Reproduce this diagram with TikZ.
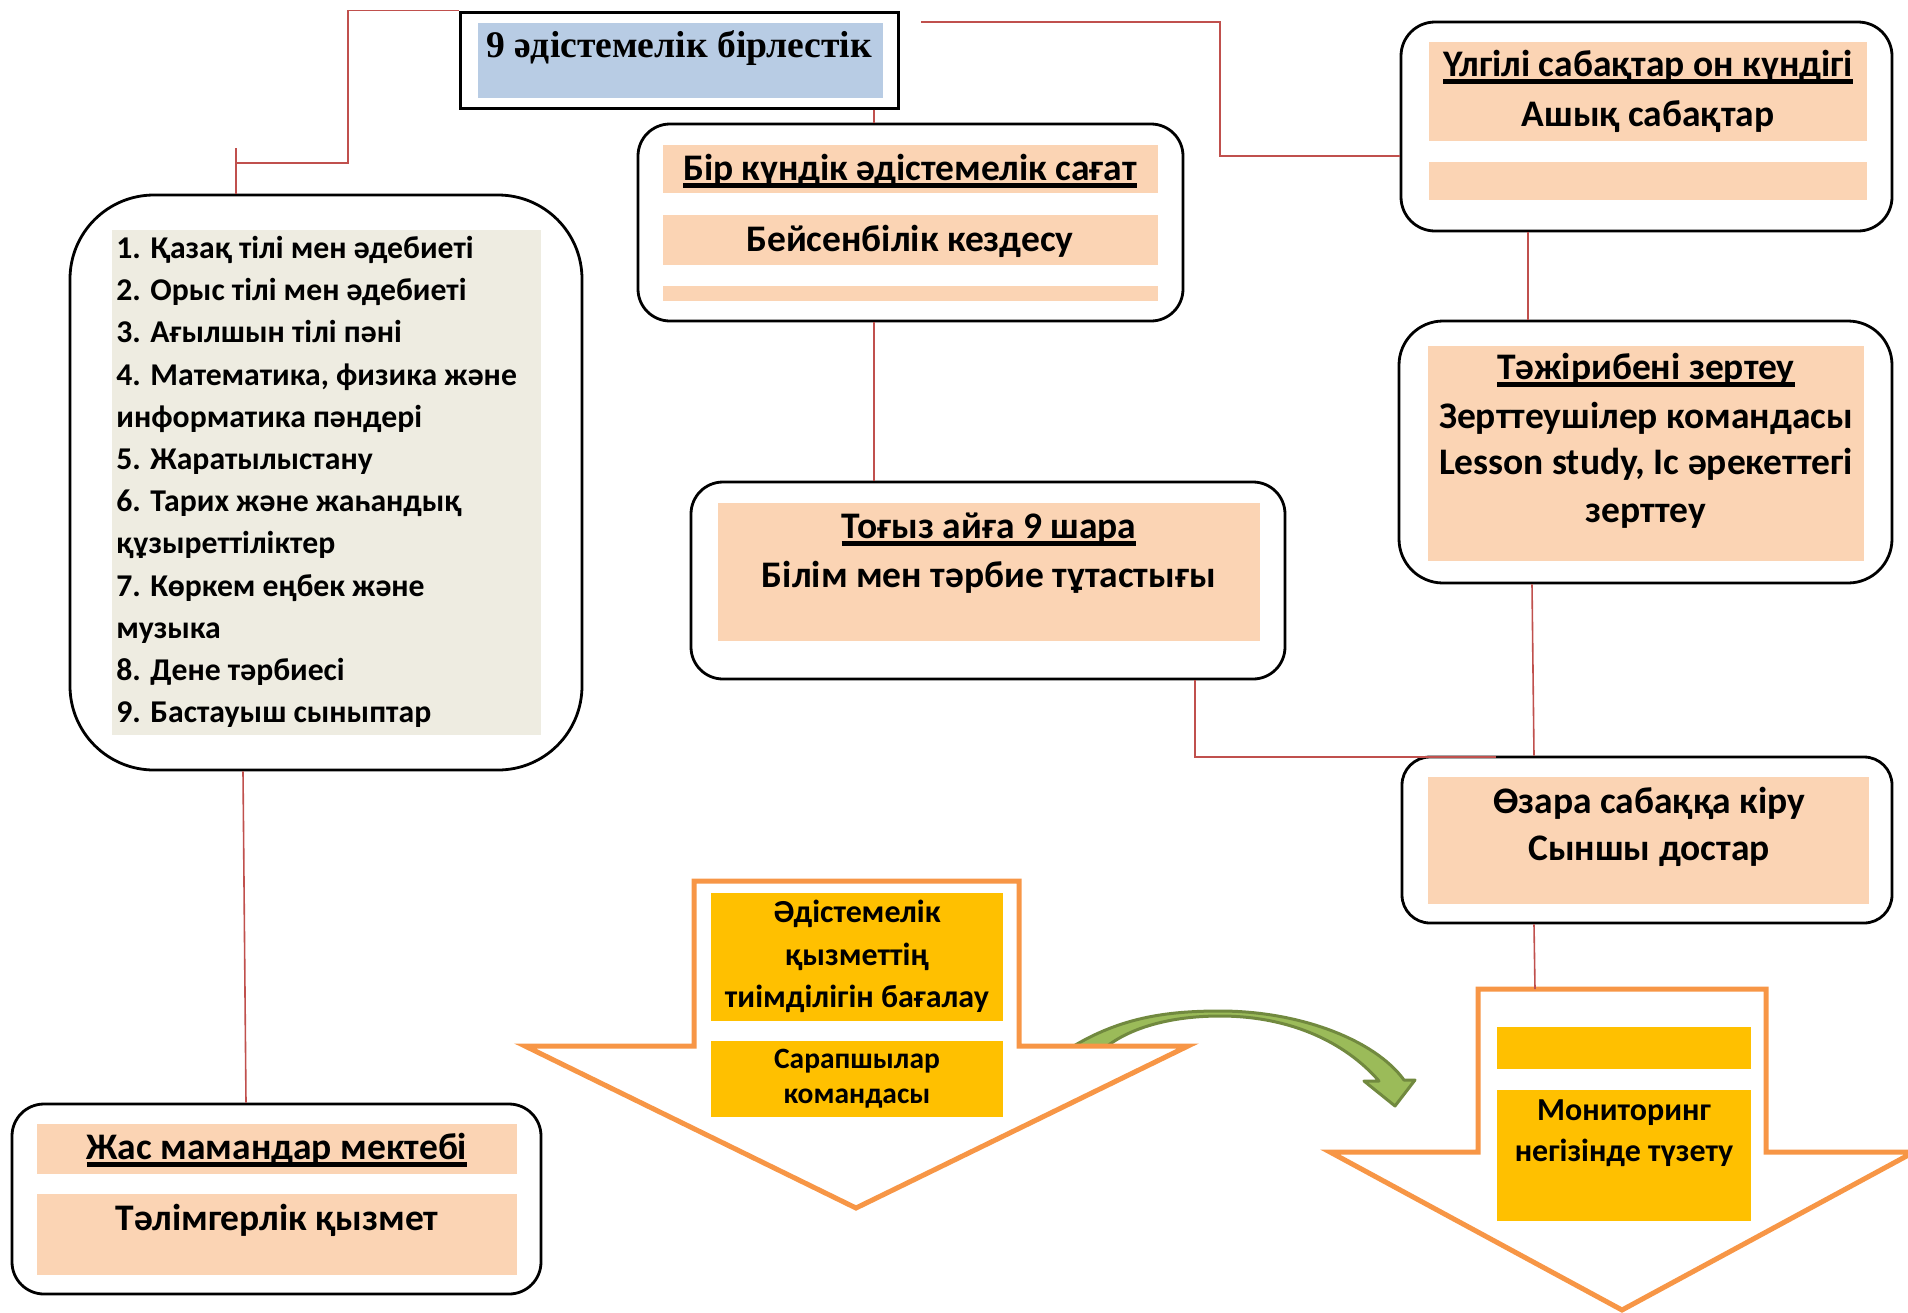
\documentclass[tikz,border=0pt]{standalone}
\usepackage{fontspec}
\setmainfont{Carlito}
\newfontfamily\serifbf{Liberation Serif}
\usetikzlibrary{fit}
\definecolor{redline}{HTML}{C0504D}
\definecolor{peach}{HTML}{FBD4B4}
\definecolor{beige}{HTML}{EEECE1}
\definecolor{lblue}{HTML}{B8CCE4}
\definecolor{amber}{HTML}{FFC000}
\definecolor{orng}{HTML}{F79646}
\definecolor{gfill}{HTML}{9BBB59}
\definecolor{gline}{HTML}{71893F}
\newsavebox\ulbox
\newcommand\ulx[1]{\sbox\ulbox{#1}\rlap{\rule[-0.2em]{\wd\ulbox}{0.11em}}\usebox\ulbox}
\begin{document}
\begin{tikzpicture}[x=0.5pt,y=-0.5pt,
  rbox/.style={draw=black, line width=1.4pt, fill=white, inner sep=0pt},
  ybox/.style={fill=amber, inner sep=0pt},
  conn/.style={draw=redline, line width=0.8pt},
  hd/.style={anchor=base, inner sep=0pt, font=\bfseries\fontsize{18.75}{22}\selectfont},
  lt/.style={anchor=base west, inner sep=0pt, font=\bfseries\fontsize{15.85}{19}\selectfont},
  yt/.style={anchor=base, inner sep=0pt, font=\bfseries\fontsize{16}{19}\selectfont},
  ys/.style={anchor=base, inner sep=0pt, font=\bfseries\fontsize{14.75}{18}\selectfont},
  arrowshape/.style={draw=orng, fill=white, line width=2.5pt, line join=miter}]
\useasboundingbox (0,0) rectangle (1908,1313);

% top box
\node[fit={(460,12) (898,108)}, inner sep=0pt, draw=black, line width=1.5pt, fill=white] (top) {};
\fill[lblue] (478,23) rectangle (883,98);
\node[anchor=base, inner sep=0pt, font=\serifbf\bfseries\fontsize{18.8}{21}\selectfont] (toptxt) at (679,57) {9 әдістемелік бірлестік};

% Bir kundik
\node[rbox, rounded corners=16pt, fit={(638,124) (1183,321)}] (bir) {};
\fill[peach] (663,145) rectangle (1158,193);
\fill[peach] (663,215) rectangle (1158,265);
\fill[peach] (663,286) rectangle (1158,301);
\node[hd] (bir1) at (910,180) {\ulx{Бір күндік әдістемелік сағат}};
\node[hd] (bir2) at (910,251) {Бейсенбілік кездесу};

% Togyz
\node[rbox, rounded corners=16pt, fit={(691,482) (1285,679)}] (tog) {};
\fill[peach] (718,503) rectangle (1260,641);
\node[hd] (tog1) at (989,538) {\ulx{Тоғыз айға 9 шара}};
\node[hd] (tog2) at (989,587) {Білім мен тәрбие тұтастығы};

% Ulgili
\node[rbox, rounded corners=17pt, fit={(1401,22) (1892,231)}] (ulg) {};
\fill[peach] (1429,42) rectangle (1867,141);
\fill[peach] (1429,162) rectangle (1867,200);
\node[hd] (ulg1) at (1648,76) {\ulx{Үлгілі сабақтар он күндігі}};
\node[hd] (ulg2) at (1648,126) {Ашық сабақтар};

% Tazhiribe
\node[rbox, rounded corners=22pt, fit={(1399,321) (1892,583)}] (taz) {};
\fill[peach] (1428,346) rectangle (1864,561);
\node[hd] (taz1) at (1646,379) {\ulx{Тәжірибені зертеу}};
\node[hd] (taz2) at (1646,428) {Зерттеушілер командасы};
\node[hd] (taz3) at (1646,474) {Lesson study, Іс әрекеттегі};
\node[hd] (taz4) at (1646,522) {зерттеу};

% Ozara
\node[rbox, rounded corners=14pt, fit={(1402,757) (1892,923)}] (oza) {};
\fill[peach] (1428,777) rectangle (1869,904);
\node[hd] (oza1) at (1649,813) {Өзара сабаққа кіру};
\node[hd] (oza2) at (1649,860) {Сыншы достар};

% List
\node[rbox, rounded corners=42pt, fit={(70,195) (582,770)}] (lst) {};
\fill[beige] (112,230) rectangle (541,735);
\foreach \t [count=\i] in {1. Қазақ тілі мен әдебиеті, 2. Орыс тілі мен әдебиеті, 3. Ағылшын тілі пәні, {4. Математика, физика және}, информатика пәндері, 5. Жаратылыстану, 6. Тарих және жаһандық, құзыреттіліктер, 7. Көркем еңбек және, музыка, 8. Дене тәрбиесі, 9. Бастауыш сыныптар}
  \node[lt] (L\i) at (116,{258.5+42.2*(\i-1)}) {\t};

% Jas
\node[rbox, rounded corners=16pt, fit={(12,1104) (541,1294)}] (jas) {};
\fill[peach] (37,1124) rectangle (517,1174);
\fill[peach] (37,1194) rectangle (517,1275);
\node[hd] (jas1) at (277,1159) {\ulx{Жас мамандар мектебі}};
\node[hd] (jas2) at (277,1230) {Тәлімгерлік қызмет};

% green curved arrow
\draw[gline, fill=gfill, line width=1.5pt, line join=round]
  (1072,1047) .. controls (1120,1018) and (1165,1011) .. (1220,1011)
  .. controls (1300,1011) and (1375,1040) .. (1404,1080)
  -- (1415,1080) -- (1395,1106) -- (1364,1081) -- (1379,1081)
  .. controls (1345,1042) and (1290,1016) .. (1220,1016)
  .. controls (1170,1016) and (1130,1028) .. (1106,1047) -- cycle;

% left orange arrow
\draw[arrowshape] (694,881) -- (1019,881) -- (1019,1046) -- (1188,1046) -- (856,1208) -- (525,1046) -- (694,1046) -- cycle;
\node[ybox, fit={(711,893) (1003,1021)}] (y1) {};
\node[ybox, fit={(711,1041) (1003,1117)}] (y2) {};
\node[yt] (y1a) at (857,922) {Әдістемелік};
\node[yt] (y1b) at (857,965) {қызметтің};
\node[yt] (y1c) at (857,1007) {тиімділігін бағалау};
\node[ys] (y2a) at (857,1068) {Сарапшылар};
\node[ys] (y2b) at (857,1103) {командасы};

% right orange arrow
\draw[arrowshape] (1478,989) -- (1766,989) -- (1766,1152) -- (1914,1152) -- (1622,1310) -- (1330,1152) -- (1478,1152) -- cycle;
\coordinate (rtop) at (1535,989);
\node[ybox, fit={(1497,1027) (1751,1069)}] (y3) {};
\node[ybox, fit={(1497,1090) (1751,1221)}] (y4) {};
\node[yt] (y4a) at (1624,1120) {Мониторинг};
\node[yt] (y4b) at (1624,1161) {негізінде түзету};

% connectors
\coordinate (k1) at (348,163);
\coordinate (k1e) at (236,163);
\coordinate (stub) at (236,148);
\draw[conn] (top.north west) -| (k1) -- (k1e);
\draw[conn] (stub) -- (stub |- lst.north);
\coordinate (tr) at (921,22);
\coordinate (k2) at (1220,156);
\draw[conn] (tr) -| (k2) -- (k2 -| ulg.west);
\coordinate (xa) at (874,0);
\draw[conn] (top.south -| xa) -- (bir.north -| xa);
\draw[conn] (bir.south -| xa) -- (tog.north -| xa);
\coordinate (xb) at (1195,757);
\coordinate (xc) at (1496,757);
\draw[conn] (tog.south -| xb) -- (xb) -- (xc);
\coordinate (xd) at (1528,0);
\draw[conn] (ulg.south -| xd) -- (taz.north -| xd);
\coordinate (xe) at (1532,0);
\coordinate (xf) at (1534,0);
\draw[conn] (taz.south -| xe) -- (oza.north -| xf);
\draw[conn] (oza.south -| xf) -- (rtop);
\coordinate (xg) at (243,0);
\coordinate (xh) at (246,0);
\draw[conn] (lst.south -| xg) -- (jas.north -| xh);
\end{tikzpicture}
\end{document}
